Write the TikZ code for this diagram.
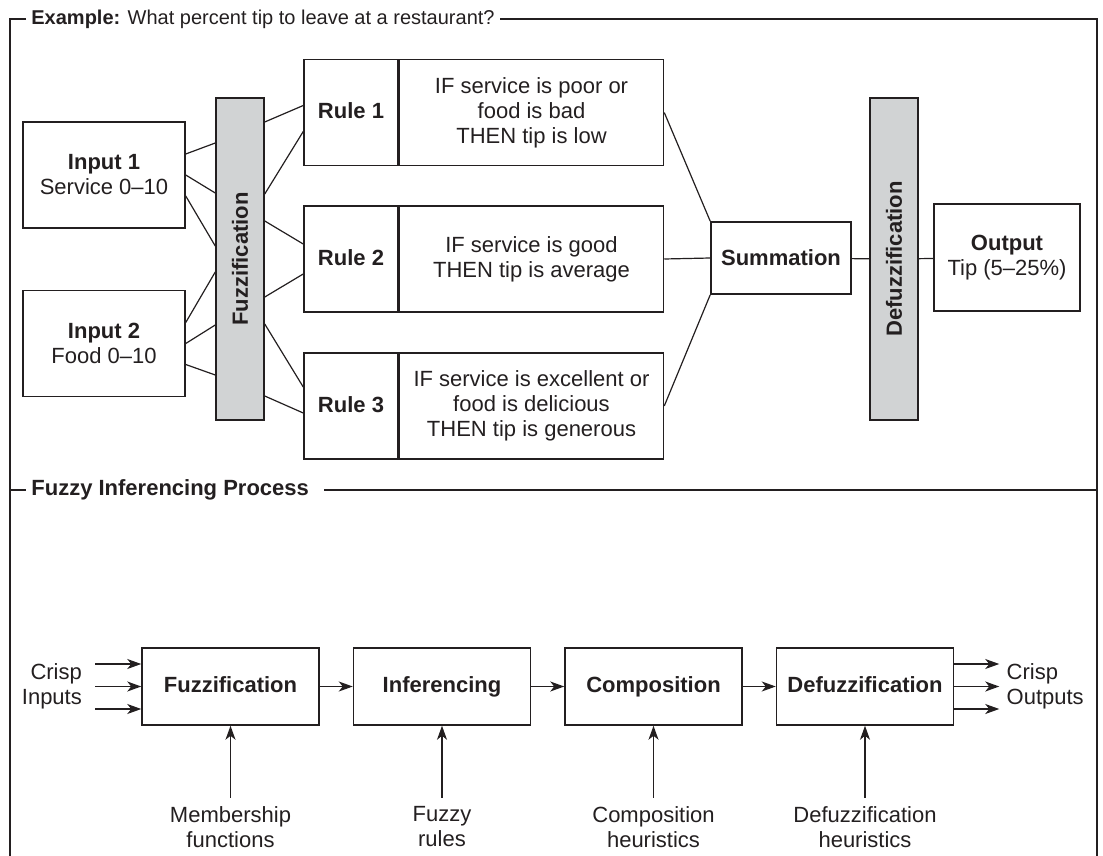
\documentclass[tikz,border=0pt]{standalone}
\usepackage{fontspec}
\setmainfont{Liberation Sans}
\usetikzlibrary{positioning,arrows.meta}
\definecolor{ink}{HTML}{231F20}
\definecolor{barfill}{HTML}{D1D3D4}

\begin{document}
\begin{tikzpicture}[
  x=0.5pt, y=-0.5pt,
  font=\fontsize{11}{12.5}\selectfont,
  box/.style={draw=ink, line width=0.75pt, align=center, inner sep=1pt, text=ink},
  inbox/.style={box, minimum width=81pt, minimum height=53pt},
  bar/.style={box, fill=barfill, minimum width=24pt, minimum height=161pt, font=\fontsize{11}{12.5}\selectfont\bfseries},
  rulebox/.style={box, minimum width=47pt, minimum height=53pt, text height=8pt, text depth=2pt, font=\fontsize{11}{12.5}\selectfont\bfseries},
  ruletext/.style={box, minimum width=132pt, minimum height=53pt},
  stage/.style={box, minimum width=88.5pt, minimum height=38.5pt, text height=8pt, text depth=2pt, font=\fontsize{11}{12.5}\selectfont\bfseries},
  lbl/.style={align=center, inner sep=2pt, text=ink},
  link/.style={draw=ink, line width=0.6pt},
  frame/.style={draw=ink, line width=0.7pt},
  arr/.style={link, -{Stealth[length=7pt, width=5pt, inset=2pt]}}]
\useasboundingbox (0,0) rectangle (1103,856);
% example: tipping
\node[anchor=west, inner sep=2.5pt, text=ink, font=\fontsize{10}{12}\selectfont] (ttl1) at (26,19) {\textbf{Example:} What percent tip to leave at a restaurant?};
\node[inbox] (in1) at (104,175) {\textbf{Input 1}\\Service 0--10};
\node[inbox] (in2) at (104,343.5) {\textbf{Input 2}\\Food 0--10};
\node[bar] (fuz) at (240,259) {\rotatebox{90}{Fuzzification}};
\node[rulebox] (r1) at (351,112.5) {Rule 1};
\node[ruletext, right=0pt of r1] (r1t) {IF service is poor or\\food is bad\\THEN tip is low};
\node[rulebox] (r2) at (351,259) {Rule 2};
\node[ruletext, right=0pt of r2] (r2t) {IF service is good\\THEN tip is average};
\node[rulebox] (r3) at (351,406) {Rule 3};
\node[ruletext, right=0pt of r3] (r3t) {IF service is excellent or\\food is delicious\\THEN tip is generous};
\node[box, minimum width=70pt, minimum height=36pt, font=\fontsize{11}{12.5}\selectfont\bfseries] (sum) at (781,258) {Summation};
\node[bar] (defuz) at (894,259) {\rotatebox{90}{Defuzzification}};
\node[inbox, minimum width=73pt, minimum height=53.5pt] (out) at (1007,257.5) {\textbf{Output}\\Tip (5--25\%)};
\foreach \a/\b in {10.5/58, 0/33, -10.5/6.5}
  \draw[link] ([yshift=\a pt]in1.east) -- ([yshift=\b pt]fuz.west);
\foreach \a/\b in {10.5/-6.5, 0/-33, -10.5/-58}
  \draw[link] ([yshift=\a pt]in2.east) -- ([yshift=\b pt]fuz.west);
\draw[link] ([yshift=68.5pt]fuz.east) -- ([yshift=3.5pt]r1.west);
\draw[link] ([yshift=32.5pt]fuz.east) -- ([yshift=-9.5pt]r1.west);
\draw[link] ([yshift=19pt]fuz.east) -- ([yshift=7.5pt]r2.west);
\draw[link] ([yshift=-19pt]fuz.east) -- ([yshift=-7.5pt]r2.west);
\draw[link] ([yshift=-32.5pt]fuz.east) -- ([yshift=9.5pt]r3.west);
\draw[link] ([yshift=-68.5pt]fuz.east) -- ([yshift=-3.5pt]r3.west);
\draw[link] (r1t.east) -- (sum.north west);
\draw[link] (r2t.east) -- (sum.west);
\draw[link] (r3t.east) -- (sum.south west);
\draw[link] (sum) -- (defuz);
\draw[link] (defuz) -- (out);
% fuzzy inferencing process
\node[anchor=west, inner sep=2.5pt, text=ink, font=\fontsize{11}{12.5}\selectfont\bfseries] (ttl2) at (26,490) {Fuzzy Inferencing Process};
\node[stage] (s1) at (230.5,686.5) {Fuzzification};
\node[stage, right=16.5pt of s1] (s2) {Inferencing};
\node[stage, right=16.5pt of s2] (s3) {Composition};
\node[stage, right=16.5pt of s3] (s4) {Defuzzification};
\draw[arr] (s1) -- (s2);
\draw[arr] (s2) -- (s3);
\draw[arr] (s3) -- (s4);
\coordinate (cin) at ([xshift=-23pt]s1.west);
\coordinate (cout) at ([xshift=22.5pt]s4.east);
\foreach \dy in {11.25,0,-11.25} {
  \draw[arr] ([yshift=\dy pt]cin) -- ([yshift=\dy pt]s1.west);
  \draw[arr] ([yshift=\dy pt]s4.east) -- ([yshift=\dy pt]cout);
}
\node[lbl, align=right, left=4.5pt of cin] (cinl) {Crisp\\Inputs};
\node[lbl, align=left, right=1.5pt of cout] (coutl) {Crisp\\Outputs};
\node[lbl, inner sep=4pt, below=36pt of s1] (h1) {Membership\\functions};
\node[lbl, inner sep=4pt, below=36pt of s2] (h2) {Fuzzy\\rules};
\node[lbl, inner sep=4pt, below=36pt of s3] (h3) {Composition\\heuristics};
\node[lbl, inner sep=4pt, below=36pt of s4] (h4) {Defuzzification\\heuristics};
\foreach \i in {1,...,4}
  \draw[arr] (h\i.north) -- (s\i.south);
% frame
\coordinate (ftl) at (10,19);
\coordinate (ftr) at (1097,19);
\coordinate (fbl) at (10,856);
\coordinate (fbr) at (1097,856);
\coordinate (fml) at (10,490);
\coordinate (fmr) at (1097,490);
\draw[frame] (ttl1.west) -- (ftl) -- (fbl);
\draw[frame] (ttl1.east) -- (ftr) -- (fbr);
\draw[frame] (fml) -- (ttl2.west);
\draw[frame] ([xshift=5pt]ttl2.east) -- (fmr);
\end{tikzpicture}
\end{document}
